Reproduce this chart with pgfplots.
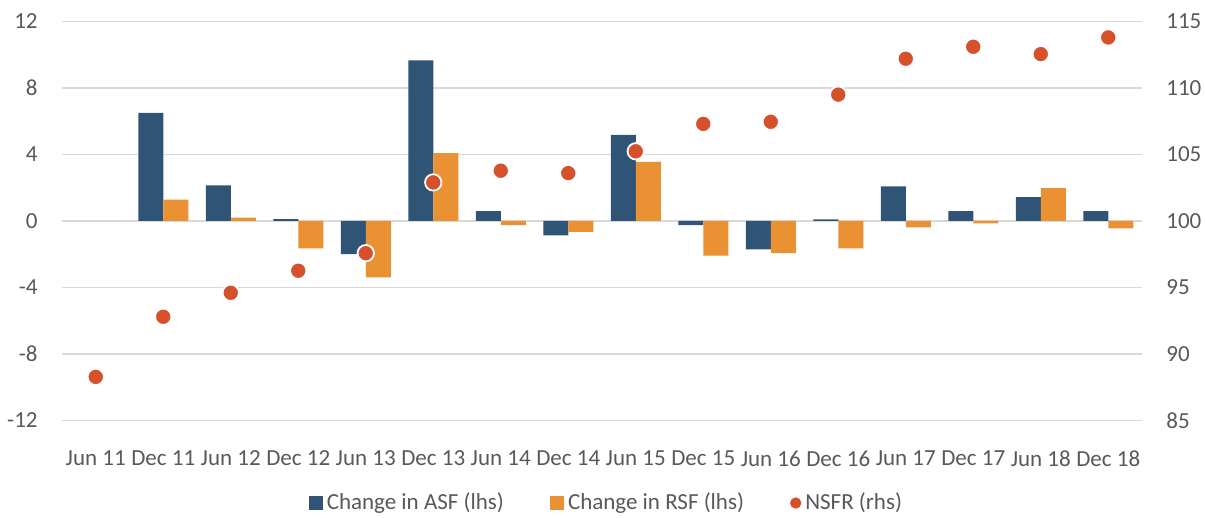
\documentclass[border=0pt]{standalone}
\usepackage{pgfplots}
\pgfplotsset{compat=1.18}
\usepackage{fontspec}
\setmainfont{Carlito}
\definecolor{asf}{HTML}{2F5475}
\definecolor{rsf}{HTML}{EA9133}
\definecolor{nsfr}{HTML}{D6502B}
\definecolor{txt}{HTML}{595959}
\definecolor{grd}{HTML}{D9D9D9}
\begin{document}
\begin{tikzpicture}
\path[use as bounding box] (-31pt,-48.75pt) rectangle (571.5pt,210.25pt);
\begin{axis}[
  at={(0pt,0pt)}, anchor=south west, scale only axis,
  width=540pt, height=199.5pt,
  xmin=-0.5, xmax=15.5, ymin=-12, ymax=12,
  ytick={-12,-8,-4,0,4,8,12},
  yticklabels={-12,-8,-4,0,4,8,12},
  xtick={0,...,15},
  xticklabels={Jun 11,Dec 11,Jun 12,Dec 12,Jun 13,Dec 13,Jun 14,Dec 14,Jun 15,Dec 15,Jun 16,Dec 16,Jun 17,Dec 17,Jun 18,Dec 18},
  axis line style={draw=none}, tick style={draw=none},
  ymajorgrids, grid style={grd, line width=0.9pt},
  ybar=0pt, bar width=12.5pt,
  tick label style={font=\fontsize{11.5}{13}\selectfont, text=txt},
  yticklabel style={anchor=east, inner sep=0pt, xshift=-12pt},
  xticklabel style={anchor=north, inner sep=0pt, yshift=-10.75pt},
  legend columns=3,
  legend style={draw=none, at={(0.505,-0.2068)}, anchor=center,
    font=\fontsize{11.5}{13}\selectfont, text=txt,
    nodes={inner sep=2pt},
    /tikz/every even column/.append style={column sep=21pt}},
]
\addplot[fill=asf, draw=none,
  legend image code/.code={\fill[asf] (0pt,-3.3pt) rectangle (7pt,3.3pt);}]
  coordinates {(1,6.5) (2,2.15) (3,0.12) (4,-2.0) (5,9.66) (6,0.6) (7,-0.87) (8,5.18) (9,-0.25) (10,-1.7) (11,0.1) (12,2.08) (13,0.6) (14,1.43) (15,0.6)};
\addlegendentry{Change in ASF (lhs)}
\addplot[fill=rsf, draw=none,
  legend image code/.code={\fill[rsf] (0pt,-3.3pt) rectangle (7pt,3.3pt);}]
  coordinates {(1,1.29) (2,0.2) (3,-1.65) (4,-3.39) (5,4.09) (6,-0.25) (7,-0.65) (8,3.55) (9,-2.08) (10,-1.94) (11,-1.64) (12,-0.38) (13,-0.15) (14,1.98) (15,-0.45)};
\addlegendentry{Change in RSF (lhs)}
\addlegendimage{legend image code/.code={\fill[nsfr] (3.5pt,0pt) circle (2.6pt);}}
\addlegendentry{NSFR (rhs)}
\end{axis}
\begin{axis}[
  at={(0pt,0pt)}, anchor=south west, scale only axis,
  width=540pt, height=199.5pt,
  xmin=-0.5, xmax=15.5, ymin=85, ymax=115,
  axis y line*=right, axis x line=none,
  ytick={85,90,95,100,105,110,115},
  yticklabels={85,90,95,100,105,110,115},
  axis line style={draw=none}, tick style={draw=none},
  tick label style={font=\fontsize{11.5}{13}\selectfont, text=txt},
  yticklabel style={anchor=west, inner sep=0pt, xshift=12pt},
]
\addplot[only marks, mark=*, mark size=4.1pt, mark options={fill=nsfr, draw=white, line width=0.9pt}]
  coordinates {(0,88.28) (1,92.8) (2,94.6) (3,96.26) (4,97.58) (5,102.9) (6,103.78) (7,103.6) (8,105.24) (9,107.3) (10,107.46) (11,109.5) (12,112.2) (13,113.1) (14,112.55) (15,113.8)};
\end{axis}
\end{tikzpicture}
\end{document}
